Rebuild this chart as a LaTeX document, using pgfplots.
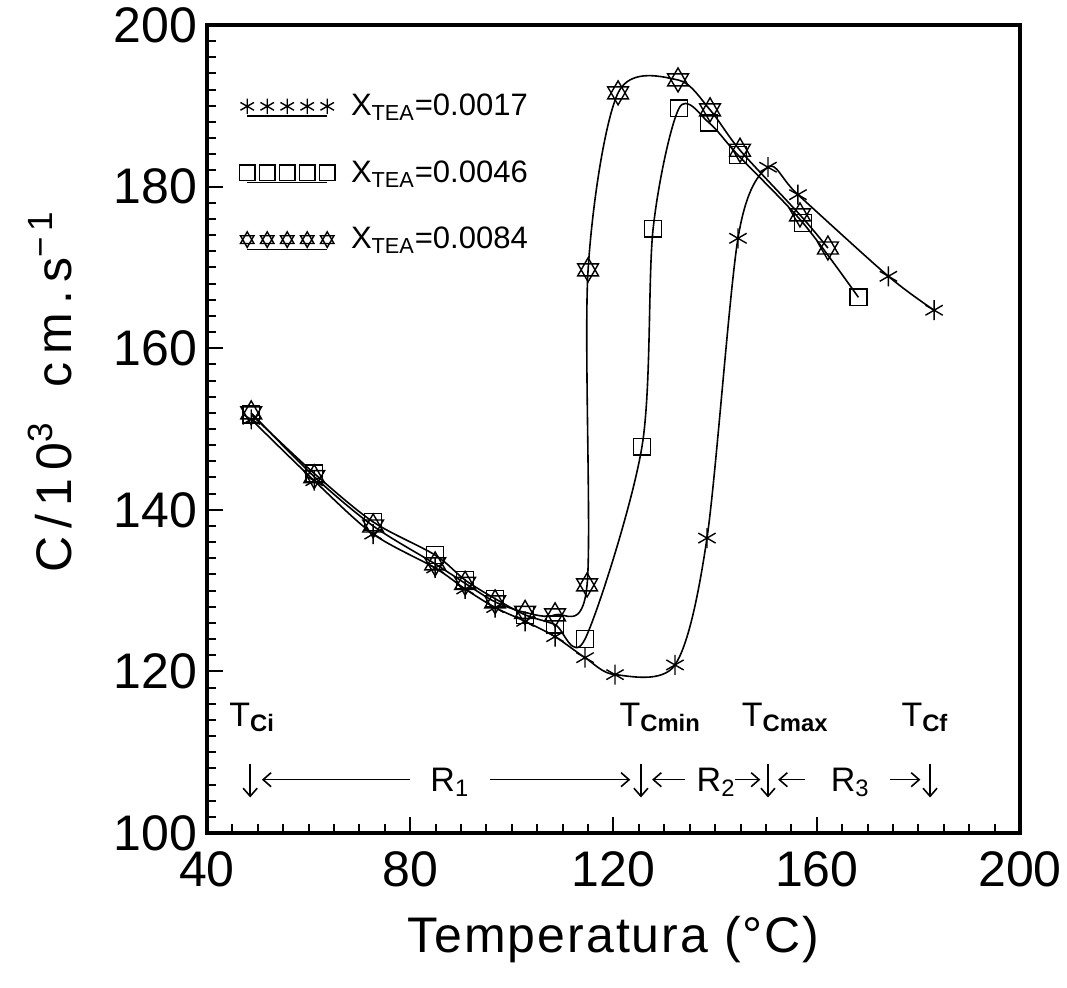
\documentclass[border=0pt]{standalone}
\usepackage{fontspec}
\setmainfont{Liberation Sans}
\newfontfamily\xlabfont[LetterSpace=4]{Liberation Sans}
\newfontfamily\ylabfont[LetterSpace=16]{Liberation Sans}
\usepackage{pgfplots}
\pgfplotsset{compat=1.18}
\usetikzlibrary{arrows.meta,calc}

\pgfdeclareplotmark{hexagram}{%
  \pgfpathmoveto{\pgfpointpolar{90}{\pgfplotmarksize}}%
  \pgfpathlineto{\pgfpointpolar{210}{\pgfplotmarksize}}%
  \pgfpathlineto{\pgfpointpolar{330}{\pgfplotmarksize}}%
  \pgfpathclose
  \pgfpathmoveto{\pgfpointpolar{270}{\pgfplotmarksize}}%
  \pgfpathlineto{\pgfpointpolar{30}{\pgfplotmarksize}}%
  \pgfpathlineto{\pgfpointpolar{150}{\pgfplotmarksize}}%
  \pgfpathclose
  \pgfusepathqstroke}

\begin{document}
\begin{tikzpicture}
\begin{axis}[
  name=ax,
  scale only axis, width=406.5pt, height=404pt,
  xmin=40, xmax=200, ymin=100, ymax=200,
  xtick={40,80,...,200}, ytick={100,120,...,200},
  minor x tick num=7, minor y tick num=9,
  tick pos=left, tick align=inside,
  major tick length=8pt, minor tick length=4.5pt,
  axis line style={line width=2pt},
  every tick/.style={line width=1pt, black},
  ticklabel style={font=\fontsize{25}{30}\selectfont},
  xticklabel style={yshift=-6pt},
  yticklabel style={xshift=-1.5pt},
  /pgf/number format/assume math mode=true,
  xlabel={Temperatura (°C)},
  ylabel={C/10\textsuperscript{3}\hspace{0.7em}cm.s\textsuperscript{−1}},
  every axis x label/.style={at={(rel axis cs:0.5,0)}, anchor=center, yshift=-53.5pt, font=\fontsize{25}{30}\xlabfont},
  every axis y label/.style={at={(rel axis cs:0,0.546)}, anchor=center, xshift=-78.5pt, rotate=90, font=\fontsize{25}{30}\ylabfont},
  legend style={at={(rel axis cs:0.032,0.925)}, anchor=north west, draw=none, fill=none,
    font=\fontsize{15.5}{18}\selectfont, row sep=17pt, column sep=6pt, cells={anchor=west}},
  legend image code/.code={%
    \draw[#1, only marks, mark size=3.9pt] plot coordinates {(0pt,0pt) (10pt,0pt) (20pt,0pt) (30pt,0pt) (40pt,0pt)};
    \draw[line width=0.6pt] (0pt,-4.8pt) -- (40pt,-4.8pt);
  },
  every axis plot/.append style={line width=0.8pt, black, smooth, tension=0.5, mark options={solid, line width=0.7pt}},
  clip=false,
]
\addplot[mark=asterisk, mark size=5pt] coordinates {
(48.7,151.2)(61.1,143.6)(72.7,137.0)(84.9,132.8)(90.8,130.2)(96.7,127.9)(102.6,126.2)(108.5,124.3)(114.4,121.7)(120.3,119.6)(132.1,120.8)(138.4,136.5)(144.5,173.6)(150.4,182.4)(156.3,179.0)(174.1,168.9)(183.1,164.7)
};
\addlegendentry{X\textsubscript{TEA}=0.0017}
\addplot[mark=square, mark size=4.2pt] coordinates {
(48.7,151.8)(61.1,144.5)(72.7,138.5)(84.9,134.4)(90.8,131.3)(96.7,129.0)(102.6,127.0)(108.5,125.8)(114.4,124.0)(125.6,147.8)(127.8,174.8)(132.9,189.7)(138.8,187.9)(144.5,183.9)(157.3,175.5)(168.2,166.3)
};
\addlegendentry{X\textsubscript{TEA}=0.0046}
\addplot[mark=hexagram, mark size=6pt] coordinates {
(48.7,152.0)(61.1,144.1)(72.7,138.0)(84.9,133.3)(90.8,130.9)(96.7,128.6)(102.6,127.3)(108.5,127.0)(114.8,130.7)(115.0,169.7)(120.9,191.6)(132.7,193.2)(139.0,189.5)(144.9,184.5)(156.7,176.5)(162.2,172.4)
};
\addlegendentry{X\textsubscript{TEA}=0.0084}

% annotations
\begin{scope}[font=\fontsize{17}{20}\selectfont]
\node at (axis cs:48.9,114.3) {T\textsubscript{\bfseries Ci}};
\node at (axis cs:129.2,114.3) {T\textsubscript{\bfseries Cmin}};
\node at (axis cs:153.8,114.3) {T\textsubscript{\bfseries Cmax}};
\node at (axis cs:181.3,114.3) {T\textsubscript{\bfseries Cf}};
\node at (axis cs:87.8,106.3) {R\textsubscript{1}};
\node at (axis cs:140.2,106.3) {R\textsubscript{2}};
\node at (axis cs:166.6,106.3) {R\textsubscript{3}};
\end{scope}
\begin{scope}[line width=0.8pt, arrows={-Straight Barb[length=4pt,width=7pt]}]
\draw (axis cs:48.5,108.6) -- (axis cs:48.5,104.4);
\draw (axis cs:125.4,108.6) -- (axis cs:125.4,104.4);
\draw (axis cs:150.4,108.6) -- (axis cs:150.4,104.4);
\draw (axis cs:182.3,108.6) -- (axis cs:182.3,104.4);
\draw (axis cs:80.0,106.6) -- (axis cs:50.8,106.6);
\draw (axis cs:95.7,106.6) -- (axis cs:123.3,106.6);
\draw (axis cs:134.1,106.6) -- (axis cs:127.6,106.6);
\draw (axis cs:143.9,106.6) -- (axis cs:148.9,106.6);
\draw (axis cs:157.7,106.6) -- (axis cs:152.4,106.6);
\draw (axis cs:174.4,106.6) -- (axis cs:180.4,106.6);
\end{scope}
\end{axis}
\pgfresetboundingbox
\path[use as bounding box] ($(ax.south west)+(-103.5pt,-77pt)$) rectangle ($(ax.north east)+(23.5pt,12.5pt)$);
\end{tikzpicture}
\end{document}
